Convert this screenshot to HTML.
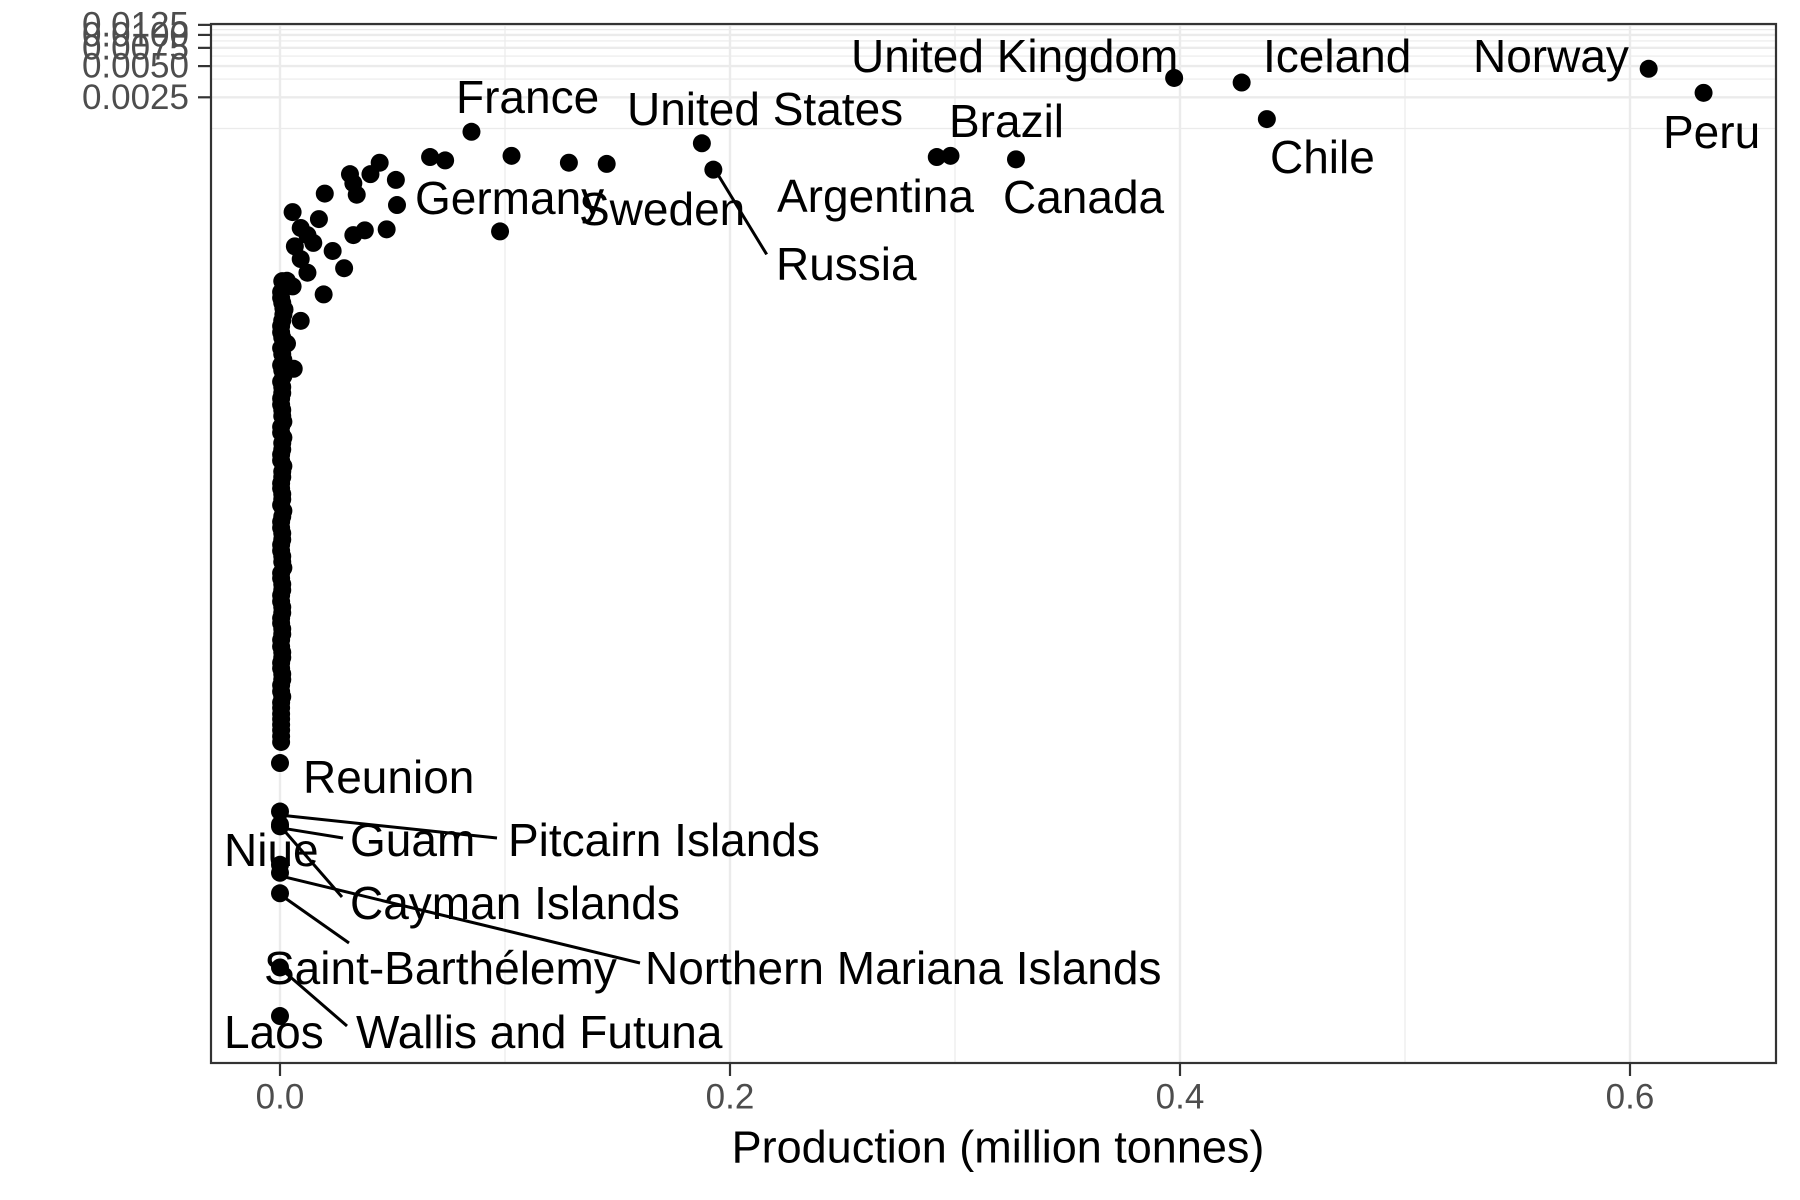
<!DOCTYPE html>
<html><head><meta charset="utf-8"><style>
html,body{margin:0;padding:0;background:#fff}
svg{display:block;font-family:"Liberation Sans",Arial,sans-serif}
</style></head><body>
<svg id="chart" width="1800" height="1200" viewBox="0 0 1800 1200">
<rect width="1800" height="1200" fill="#fff"/>
<g id="grid"></g>
<g id="segs"></g>
<g id="pts"></g>
<g id="labs"></g>
<rect x="211" y="24" width="1565" height="1039" fill="none" stroke="#333" stroke-width="2.2"/>
<g id="axes"></g>
<text x="998" y="1147" font-size="45" text-anchor="middle" dominant-baseline="central" fill="#000">Production (million tonnes)</text>
</svg>
<script>
const xTicks = [0, 0.2, 0.4, 0.6];
const xTickLabels = ["0.0", "0.2", "0.4", "0.6"];
const xMinor = [0.1, 0.3, 0.5];
const yTicks = [0.0025, 0.005, 0.0075, 0.01, 0.0125];
const yTickLabels = ["0.0025", "0.0050", "0.0075", "0.0100", "0.0125"];
const yMinor = [0.00125, 0.00375, 0.00625, 0.00875, 0.01125];

const namedCountries = ["Peru","Norway","United Kingdom","Iceland","Chile","Canada","Brazil","Argentina","United States","Russia","Sweden","France","Germany"];
const namedX = [0.6327,0.6083,0.3974,0.4274,0.4386,0.3271,0.2980,0.2919,0.1875,0.1926,0.1452,0.0851,0.0520];
const namedY = [0.00276,0.00471,0.00384,0.00347,0.00154,0.000630,0.000681,0.000663,0.000900,0.000501,0.000569,0.001162,0.000228];

const clusterX = [0.1284,0.1029,0.0978,0.0667,0.0734,0.0443,0.0402,0.0311,0.0326,0.0515,0.0341,0.0199,0.0056,0.0173,0.0092,0.0122,0.0148,0.0234,0.0285,0.0377,0.0326,0.0474,0.0066,0.0092,0.0031,0.0122,0.0056,0.0194,0.0092,0.0061,0.0031,0.0020];
const clusterY = [0.000584,0.000681,0.000127,0.000663,0.000615,0.000584,0.000453,0.000453,0.000370,0.000399,0.000287,0.000294,0.000195,0.000167,0.000137,0.000117,0.0000983,0.0000822,0.0000560,0.000130,0.000117,0.000133,0.0000911,0.0000687,0.0000424,0.0000507,0.0000374,0.0000313,0.0000174,0.0000060,0.0000105,0.0000224];

const columnY = [4.2e-5,3.3e-5,2.6e-5,2.0e-5,1.55e-5,1.2e-5,9.5e-6,7.3e-6,5.8e-6,4.5e-6,3.5e-6,2.7e-6,2.1e-6,1.65e-6,1.3e-6,1.0e-6,7.8e-7,6.1e-7,4.7e-7,3.7e-7,2.9e-7,2.25e-7,1.75e-7,1.35e-7,1.05e-7,8.2e-8,6.4e-8,5.0e-8,3.9e-8,3.0e-8,2.35e-8,1.85e-8,1.45e-8,1.1e-8,8.7e-9,6.8e-9,5.3e-9,4.1e-9,3.2e-9,2.5e-9,1.95e-9,1.5e-9];
const columnX = [0.001,0.0005,0.001,0.0015,0.0005,0.001,0.0005,0.0015,0.001,0.0005,0.001,0.0005,0.001,0.0005,0.0015,0.001,0.0005,0.001,0.0005,0.001,0.0005,0.001,0.0005,0.001,0.0005,0.001,0.0005,0.001,0.0005,0.001,0.0005,0.001,0.0005,0.001,0.0005,0.001,0.0005,0.001,0.0005,0.0005,0.0005,0.0005];
const columnY2 = [3.7e-5,2.9e-5,2.3e-5,1.75e-5,1.35e-5,1.07e-5,8.3e-6,6.5e-6,5.1e-6,4.0e-6,3.1e-6,2.4e-6,1.85e-6,1.45e-6,1.15e-6,8.9e-7,6.9e-7,5.4e-7,4.2e-7,3.3e-7,2.55e-7,2.0e-7,1.55e-7,1.2e-7,9.3e-8,7.2e-8,5.7e-8,4.4e-8,3.4e-8,2.65e-8,2.1e-8,1.65e-8,1.25e-8,9.8e-9,7.7e-9,6.0e-9,4.6e-9,3.6e-9,2.8e-9,2.2e-9,1.7e-9];
const columnX2 = [0.002,0.0005,0.0015,0.001,0.0005,0.002,0.001,0.0005,0.0015,0.001,0.0005,0.001,0.0015,0.0005,0.001,0.0005,0.0015,0.001,0.0005,0.001,0.0015,0.0005,0.001,0.0005,0.001,0.0015,0.0005,0.001,0.0005,0.001,0.0005,0.001,0.0005,0.001,0.0005,0.001,0.0005,0.0005,0.0005,0.0005,0.0005];

const lowCountries = ["Reunion","Pitcairn Islands","Guam","Cayman Islands","Niue","Northern Mariana Islands","Saint-Barthélemy","Wallis and Futuna","Laos"];
const lowX = [0,0,0,0,0,0,0,0,0];
const lowY = [9.4e-10,3.2e-10,2.4e-10,2.3e-10,9.8e-11,8.2e-11,5.2e-11,1.0e-11,3.4e-12];

const NS = "http://www.w3.org/2000/svg";
function xs(v){ return 280 + v * 2250; }
function ys(v){ return 97.3 - 45 * Math.log(v / 0.0025); }
function mk(tag, attrs, parent){ const e = document.createElementNS(NS, tag); for (const k in attrs) e.setAttribute(k, attrs[k]); parent.appendChild(e); return e; }

const grid = document.getElementById('grid');
xMinor.forEach(v => { const l = mk('line', {x1: xs(v), x2: xs(v), y1: 24, y2: 1063, stroke: '#ebebeb', 'stroke-width': 1.2}, grid);
  
   });
yMinor.forEach(v => { const l = mk('line', {x1: 211, x2: 1776, y1: ys(v), y2: ys(v), stroke: '#ebebeb', 'stroke-width': 1.2}, grid);
  
   });
xTicks.forEach(v => { const l = mk('line', {x1: xs(v), x2: xs(v), y1: 24, y2: 1063, stroke: '#ebebeb', 'stroke-width': 2.4}, grid);
  
   });
yTicks.forEach(v => { const l = mk('line', {x1: 211, x2: 1776, y1: ys(v), y2: ys(v), stroke: '#ebebeb', 'stroke-width': 2.4}, grid);
  
   });

const axes = document.getElementById('axes');
xTicks.forEach((v, i) => {
  const t = mk('line', {x1: xs(v), x2: xs(v), y1: 1063, y2: 1076, stroke: '#333', 'stroke-width': 2.2}, axes);
  
  
  const tx = mk('text', {x: xs(v), y: 1097, 'font-size': 35, 'text-anchor': 'middle', 'dominant-baseline': 'central', fill: '#4d4d4d'}, axes);
  tx.textContent = xTickLabels[i];
  
  
});
yTicks.forEach((v, i) => {
  const t = mk('line', {x1: 198, x2: 211, y1: ys(v), y2: ys(v), stroke: '#333', 'stroke-width': 2.2}, axes);
  
  
  const tx = mk('text', {x: 189, y: ys(v), 'font-size': 35, 'text-anchor': 'end', 'dominant-baseline': 'central', fill: '#4d4d4d'}, axes);
  tx.textContent = yTickLabels[i];
  
  
});

const pts = document.getElementById('pts');
function dots(X, Y, name){
  X.forEach((x, i) => { const c = mk('circle', {cx: xs(x), cy: ys(Y[i]), r: 9, fill: '#000'}, pts);
    
     });
}
dots(columnX, columnY, 'point-small-producer');
dots(columnX2, columnY2, 'point-small-producer');
dots(clusterX, clusterY, 'point');
dots(namedX, namedY, 'point-labelled');
dots(lowX, lowY, 'point-low');

const labelPos = [
 ["United Kingdom",851,56],["Iceland",1263,56],["Norway",1473,56],["Peru",1663,132],["Chile",1270,157],
 ["Brazil",949,121],["Canada",1003,197],["Argentina",777,196],["Russia",776,264],["United States",627,109],
 ["France",456,97],["Germany",415,198],["Sweden",579,209],["Reunion",303,777],["Guam",350,840],
 ["Pitcairn Islands",508,840],["Niue",224,850],["Cayman Islands",350,903],["Saint-Barthélemy",264,968],
 ["Northern Mariana Islands",645,968],["Wallis and Futuna",356,1032],["Laos",224,1032]];
const segs = document.getElementById('segs');
const leaderDefs = [[0.1926,0.000501,766.7,254.4],[0,3.2e-10,497,838],[0,2.4e-10,343,838],
 [0,2.3e-10,342,897],[0,8.2e-11,640,963],[0,5.2e-11,349,943],[0,1.0e-11,347,1026]];
leaderDefs.forEach(d => { const l = mk('line', {x1: xs(d[0]) + 4, y1: ys(d[1]) + 4, x2: d[2], y2: d[3], stroke: '#000', 'stroke-width': 3}, segs);
  
   });
const labs = document.getElementById('labs');
labelPos.forEach(p => { const t = mk('text', {x: p[1], y: p[2], 'font-size': 46, 'dominant-baseline': 'central', fill: '#000'}, labs);
  t.textContent = p[0];
  
   });
</script>
</body></html>
